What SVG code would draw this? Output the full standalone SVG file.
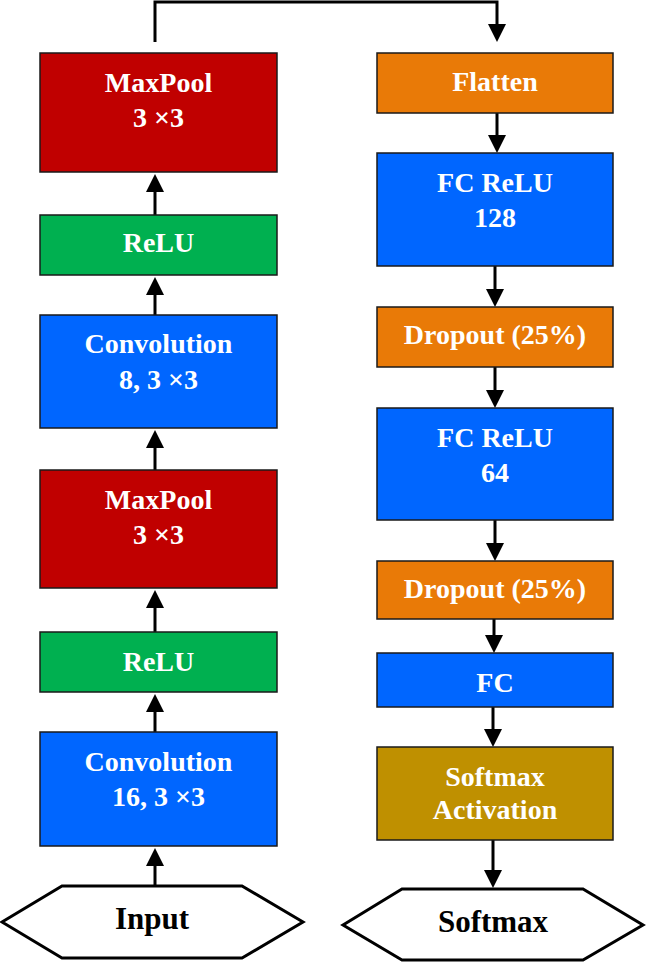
<svg xmlns="http://www.w3.org/2000/svg" width="646" height="963" viewBox="0 0 646 963">
<style>
.box{stroke:#1a1a1a;stroke-width:1.5}
.red{fill:#C00000}.green{fill:#00B050}.blue{fill:#0066FF}.orange{fill:#E97A07}.gold{fill:#BF9000}
.hex{fill:#fff;stroke:#000;stroke-width:3;stroke-linejoin:miter}
text{font-family:"Liberation Serif","Times New Roman",serif;font-weight:bold;font-size:28px;text-anchor:middle}
.w{fill:#fff}.k{fill:#000;font-size:31px}
.c{fill:none;stroke:#000;stroke-width:3}
</style>
<defs>
<marker id="ah" viewBox="0 0 18 18" refX="0" refY="9" markerWidth="18" markerHeight="18" markerUnits="userSpaceOnUse" orient="auto">
<path d="M0,0 L18,9 L0,18 z" fill="#000"/>
</marker>
</defs>
<g id="connectors">
<path class="c" d="M155,42 V2 H497 V24" marker-end="url(#ah)"/>
<path class="c" d="M155,886 V866" marker-end="url(#ah)"/>
<path class="c" d="M155,732 V712" marker-end="url(#ah)"/>
<path class="c" d="M155,632 V608" marker-end="url(#ah)"/>
<path class="c" d="M155,470 V448" marker-end="url(#ah)"/>
<path class="c" d="M155,315 V295" marker-end="url(#ah)"/>
<path class="c" d="M155,215 V192" marker-end="url(#ah)"/>
<path class="c" d="M497,113 V135" marker-end="url(#ah)"/>
<path class="c" d="M495,266 V289" marker-end="url(#ah)"/>
<path class="c" d="M495,367 V390" marker-end="url(#ah)"/>
<path class="c" d="M495,520 V543" marker-end="url(#ah)"/>
<path class="c" d="M494,619 V635" marker-end="url(#ah)"/>
<path class="c" d="M493,707 V729" marker-end="url(#ah)"/>
<path class="c" d="M493,840 V870" marker-end="url(#ah)"/>
</g>
<g id="maxpool1"><rect class="box red" x="40" y="53" width="237" height="119"/><text class="w" x="158.5" y="92">MaxPool</text><text class="w" x="158.5" y="127">3 ×3</text></g>
<g id="relu1"><rect class="box green" x="40" y="215" width="237" height="60"/><text class="w" x="158.5" y="252">ReLU</text></g>
<g id="conv1"><rect class="box blue" x="40" y="315" width="237" height="113"/><text class="w" x="158.5" y="353">Convolution</text><text class="w" x="158.5" y="389">8, 3 ×3</text></g>
<g id="maxpool2"><rect class="box red" x="40" y="470" width="237" height="118"/><text class="w" x="158.5" y="509">MaxPool</text><text class="w" x="158.5" y="544">3 ×3</text></g>
<g id="relu2"><rect class="box green" x="40" y="632" width="237" height="60"/><text class="w" x="158.5" y="671">ReLU</text></g>
<g id="conv2"><rect class="box blue" x="40" y="732" width="237" height="114"/><text class="w" x="158.5" y="771">Convolution</text><text class="w" x="158.5" y="806">16, 3 ×3</text></g>
<g id="input"><polygon class="hex" points="2,922 62,886 242,886 303,922 242,958 62,958"/><text class="k" x="152" y="929">Input</text></g>
<g id="flatten"><rect class="box orange" x="377" y="53" width="236" height="60"/><text class="w" x="495" y="91">Flatten</text></g>
<g id="fc128"><rect class="box blue" x="377" y="153" width="236" height="113"/><text class="w" x="495" y="192">FC ReLU</text><text class="w" x="495" y="227">128</text></g>
<g id="dropout1"><rect class="box orange" x="377" y="307" width="236" height="60"/><text class="w" x="495" y="344">Dropout (25%)</text></g>
<g id="fc64"><rect class="box blue" x="377" y="408" width="236" height="112"/><text class="w" x="495" y="447">FC ReLU</text><text class="w" x="495" y="482">64</text></g>
<g id="dropout2"><rect class="box orange" x="377" y="561" width="236" height="58"/><text class="w" x="495" y="598">Dropout (25%)</text></g>
<g id="fc"><rect class="box blue" x="377" y="653" width="236" height="54"/><text class="w" x="495" y="692">FC</text></g>
<g id="softmaxact"><rect class="box gold" x="377" y="747" width="236" height="93"/><text class="w" x="495" y="786">Softmax</text><text class="w" x="495" y="819">Activation</text></g>
<g id="softmax"><polygon class="hex" points="343,925 402,889 583,889 643,925 583,960 402,960"/><text class="k" x="493" y="932">Softmax</text></g>
</svg>
